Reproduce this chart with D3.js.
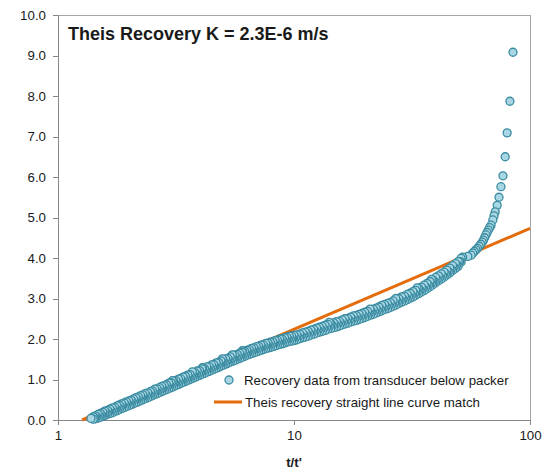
<!DOCTYPE html>
<html>
<head>
<meta charset="utf-8">
<script src="https://cdn.jsdelivr.net/npm/d3@7"></script>
<style>
  html, body { margin: 0; padding: 0; background: #fff; }
  svg { display: block; font-family: "Liberation Sans", Arial, sans-serif; }
</style>
</head>
<body>
<svg id="chart" width="549" height="473"></svg>
<script>
// ---- Data ----
const chartTitle = "Theis Recovery K = 2.3E-6 m/s";
const xAxisTitle = "t/t'";
const xTicks = [1, 10, 100];
const yTicks = [0, 1, 2, 3, 4, 5, 6, 7, 8, 9, 10];
const seriesNames = ["Recovery data from transducer below packer", "Theis recovery straight line curve match"];

// Theis recovery straight line: [t/t', residual drawdown]
const matchLine = [[1.265, 0.0], [100, 4.73]];

// Recovery data: [t/t', residual drawdown (m)]
const recoveryData = [
  [1.38,0.04],
  [1.41,0.08],[1.41,0.02],[1.44,0.10],[1.44,0.03],[1.48,0.14],[1.48,0.05],
  [1.51,0.16],[1.51,0.07],[1.55,0.19],[1.55,0.09],[1.58,0.22],[1.58,0.11],
  [1.62,0.24],[1.62,0.14],[1.66,0.27],[1.66,0.16],[1.70,0.30],[1.70,0.18],
  [1.74,0.31],[1.74,0.21],[1.78,0.35],[1.78,0.23],[1.82,0.37],[1.82,0.26],
  [1.86,0.40],[1.86,0.28],[1.91,0.42],[1.91,0.31],[1.95,0.45],[1.95,0.33],
  [2.00,0.47],[2.00,0.36],[2.04,0.49],[2.04,0.38],[2.09,0.52],[2.09,0.40],
  [2.14,0.55],[2.14,0.43],[2.19,0.57],[2.19,0.45],[2.24,0.60],[2.24,0.48],
  [2.29,0.62],[2.29,0.50],[2.34,0.65],[2.34,0.53],[2.40,0.67],[2.40,0.55],
  [2.46,0.70],[2.46,0.58],[2.51,0.72],[2.51,0.60],[2.57,0.76],[2.57,0.63],
  [2.63,0.77],[2.63,0.65],[2.69,0.80],[2.69,0.68],[2.75,0.83],[2.75,0.70],
  [2.82,0.85],[2.82,0.73],[2.88,0.87],[2.88,0.75],[2.95,0.91],[2.95,0.78],
  [3.02,0.92],[3.02,0.80],[3.05,0.97],[3.09,0.96],[3.09,0.83],[3.16,0.97],[3.16,0.85],
  [3.24,1.01],[3.24,0.88],[3.31,1.02],[3.31,0.90],[3.39,1.06],[3.39,0.93],
  [3.47,1.08],[3.47,0.95],[3.55,1.11],[3.55,0.98],[3.63,1.12],[3.63,1.00],
  [3.71,1.19],[3.72,1.16],[3.72,1.03],[3.80,1.17],[3.80,1.05],[3.89,1.21],[3.89,1.08],
  [3.98,1.22],[3.98,1.10],[4.07,1.26],[4.07,1.13],[4.09,1.29],[4.17,1.27],[4.17,1.15],
  [4.27,1.31],[4.27,1.18],[4.37,1.32],[4.37,1.20],[4.47,1.36],[4.47,1.23],
  [4.57,1.37],[4.57,1.25],[4.68,1.41],[4.68,1.28],[4.79,1.42],[4.79,1.30],
  [4.90,1.46],[4.90,1.33],[4.97,1.51],[5.01,1.47],[5.01,1.35],[5.13,1.51],[5.13,1.38],
  [5.25,1.52],[5.25,1.40],[5.37,1.56],[5.37,1.43],[5.48,1.61],[5.50,1.57],[5.50,1.45],
  [5.62,1.60],[5.62,1.47],[5.75,1.62],[5.75,1.50],[5.89,1.65],[5.89,1.52],
  [6.03,1.67],[6.03,1.55],[6.04,1.71],[6.17,1.70],[6.17,1.57],[6.31,1.72],[6.31,1.60],
  [6.46,1.74],[6.46,1.62],[6.61,1.77],[6.61,1.64],[6.76,1.78],[6.76,1.66],
  [6.92,1.81],[6.92,1.68],[7.08,1.82],[7.08,1.70],[7.24,1.85],[7.24,1.72],
  [7.41,1.86],[7.41,1.74],[7.59,1.89],[7.59,1.76],[7.76,1.90],[7.76,1.78],
  [7.94,1.92],[7.94,1.79],[8.13,1.93],[8.13,1.81],[8.32,1.96],[8.32,1.83],
  [8.51,1.97],[8.51,1.85],[8.71,2.00],[8.71,1.87],[8.91,2.00],[8.91,1.88],
  [9.12,2.03],[9.12,1.90],[9.33,2.04],[9.33,1.92],[9.55,2.07],[9.55,1.94],
  [9.77,2.07],[9.77,1.95],[10.00,2.09],[10.00,1.96],
  // middle of the dense band
  [1.43,0.05],[1.46,0.08],[1.50,0.10],[1.53,0.12],[1.57,0.15],[1.60,0.17],
  [1.64,0.20],[1.68,0.22],[1.72,0.25],[1.76,0.27],[1.80,0.30],[1.84,0.32],
  [1.88,0.35],[1.93,0.37],[1.97,0.40],[2.02,0.42],[2.06,0.45],[2.11,0.47],
  [2.16,0.50],[2.21,0.52],[2.26,0.55],[2.31,0.57],[2.37,0.60],[2.43,0.62],
  [2.48,0.65],[2.54,0.67],[2.60,0.70],[2.66,0.72],[2.72,0.75],[2.78,0.77],
  [2.85,0.80],[2.91,0.82],[2.98,0.85],[3.05,0.87],[3.12,0.90],[3.20,0.92],
  [3.27,0.95],[3.35,0.97],[3.43,1.00],[3.51,1.02],[3.59,1.05],[3.67,1.07],
  [3.76,1.10],[3.85,1.12],[3.94,1.15],[4.02,1.17],[4.12,1.20],[4.22,1.22],
  [4.32,1.25],[4.42,1.27],[4.52,1.30],[4.62,1.32],[4.73,1.35],[4.84,1.37],
  [4.95,1.40],[5.07,1.42],[5.19,1.45],[5.31,1.47],[5.43,1.50],[5.56,1.52],
  [5.69,1.54],[5.82,1.57],[5.96,1.59],[6.10,1.62],[6.24,1.64],[6.38,1.67],
  [6.53,1.69],[6.68,1.71],[6.84,1.73],[7.00,1.75],[7.16,1.77],[7.32,1.79],
  [7.50,1.81],[7.67,1.83],[7.85,1.84],[8.03,1.86],[8.22,1.88],[8.41,1.90],
  [8.61,1.92],[8.81,1.93],[9.01,1.95],[9.22,1.97],[9.44,1.99],[9.66,2.00],[9.88,2.01],
  [10.14,2.03],[10.42,2.05],[10.71,2.08],[11.01,2.10],[11.32,2.12],[11.64,2.14],
  [11.96,2.17],[12.30,2.19],[12.64,2.22],[13.00,2.24],[13.36,2.26],[13.74,2.28],
  [14.12,2.31],[14.52,2.33],[14.93,2.35],[15.35,2.37],[15.78,2.39],[16.22,2.42],
  [16.67,2.44],[17.14,2.46],[17.62,2.49],[18.11,2.51],[18.62,2.53],[19.14,2.55],
  [19.68,2.58],[20.23,2.60],[20.80,2.63],[21.38,2.66],[21.98,2.68],[22.59,2.71],
  [23.23,2.74],[23.88,2.77],[24.55,2.80],[25.24,2.82],[25.94,2.85],[26.67,2.88],
  [27.42,2.92],[28.19,2.95],[28.98,2.98],[29.79,3.01],[30.62,3.05],[31.48,3.08],
  [32.36,3.12],[33.27,3.16],[34.20,3.20],[35.16,3.24],[36.14,3.28],[37.15,3.33],
  [38.20,3.37],[39.27,3.42],[40.37,3.47],[41.50,3.52],[42.66,3.56],[43.85,3.61],
  [45.08,3.66],[46.35,3.72],[47.65,3.77],[48.98,3.83],[50.35,3.91],
  // upper / lower band edges beyond t/t' = 10
  [10.28,2.10],[10.28,1.98],[10.57,2.12],[10.57,2.01],[10.86,2.15],[10.86,2.03],
  [11.17,2.17],[11.17,2.05],[11.48,2.19],[11.48,2.07],[11.80,2.22],[11.80,2.10],
  [12.13,2.24],[12.13,2.12],[12.47,2.27],[12.47,2.15],[12.82,2.29],[12.82,2.17],
  [13.18,2.31],[13.18,2.19],[13.55,2.34],[13.55,2.21],[13.93,2.36],[13.93,2.24],
  [14.10,2.41],[14.32,2.38],[14.32,2.26],[14.72,2.40],[14.72,2.28],[15.14,2.43],[15.14,2.30],
  [15.56,2.44],[15.56,2.32],[16.00,2.47],[16.00,2.35],[16.44,2.50],[16.44,2.37],
  [16.90,2.51],[16.90,2.39],[17.38,2.54],[17.38,2.42],[17.86,2.57],[17.86,2.44],
  [18.37,2.58],[18.37,2.46],[18.88,2.61],[18.88,2.48],[19.41,2.63],[19.41,2.51],
  [19.95,2.66],[19.95,2.53],[20.51,2.68],[20.51,2.56],[21.00,2.74],[21.09,2.71],[21.09,2.59],
  [21.68,2.74],[21.68,2.61],[22.28,2.76],[22.28,2.64],[22.91,2.79],[22.91,2.67],
  [23.55,2.83],[23.55,2.70],[24.21,2.85],[24.21,2.73],[24.89,2.88],[24.89,2.75],
  [25.59,2.90],[25.59,2.78],[26.30,2.94],[26.30,2.81],[27.00,3.00],[27.04,2.96],[27.04,2.84],
  [27.80,3.00],[27.80,2.88],[28.58,3.04],[28.58,2.91],[29.38,3.06],[29.38,2.94],
  [30.20,3.10],[30.20,2.97],[31.05,3.13],[31.05,3.01],[31.92,3.17],[31.92,3.04],
  [32.81,3.20],[32.81,3.08],[33.20,3.26],[33.73,3.25],[33.73,3.12],[34.67,3.28],[34.67,3.16],
  [35.65,3.33],[35.65,3.20],[36.64,3.37],[36.64,3.25],[37.67,3.42],[37.67,3.29],
  [38.20,3.47],[38.73,3.46],[38.73,3.34],[39.81,3.52],[39.81,3.39],[40.93,3.56],[40.93,3.44],
  [42.07,3.61],[42.07,3.48],[43.25,3.65],[43.25,3.53],[44.46,3.70],[44.46,3.58],
  [45.71,3.75],[45.71,3.63],[46.99,3.81],[46.99,3.69],[48.31,3.86],[48.31,3.74],
  [49.66,3.91],[49.66,3.80],[51.05,3.99],[51.05,3.90],[51.80,4.02],
  // early-time points (large t/t')
  [54.5,4.04],[56.3,4.07],[57.2,4.12],[58.1,4.16],[59.0,4.20],[59.9,4.24],
  [60.9,4.29],[61.9,4.34],[62.7,4.39],[63.5,4.44],[64.2,4.50],[65.0,4.57],
  [65.8,4.63],[66.6,4.69],[67.5,4.75],[68.4,4.81],[69.6,4.94],[70.4,5.04],
  [71.2,5.14],[72.6,5.30],[73.9,5.50],[75.3,5.76],[76.8,6.03],[78.5,6.50],
  [80.0,7.09],[82.2,7.87],[84.7,9.08]
];

// ---- Layout ----
const svg = d3.select("#chart");
const plot = { left: 58, right: 530, top: 15, bottom: 420 };

const x = d3.scaleLog().domain([1, 100]).range([plot.left, plot.right]);
const y = d3.scaleLinear().domain([0, 10]).range([plot.bottom, plot.top]);

const axisColor = "#868686";
const textColor = "#1a1a1a";
const markerFill = "#a8d7e3";
const markerStroke = "#3a8ba1";
const lineColor = "#e46c0a";

// plot frame
svg.append("rect")
  .attr("x", plot.left).attr("y", plot.top)
  .attr("width", plot.right - plot.left).attr("height", plot.bottom - plot.top)
  .attr("fill", "none").attr("stroke", "#a6a6a6").attr("stroke-width", 1)
  .attr("shape-rendering", "crispEdges");

// axes
const yAxis = svg.append("g")
  .attr("transform", `translate(${plot.left},0)`)
  .call(d3.axisLeft(y).tickValues(yTicks).tickFormat(d3.format(".1f")).tickSize(5).tickPadding(7));
const xAxis = svg.append("g")
  .attr("transform", `translate(0,${plot.bottom})`)
  .call(d3.axisBottom(x).tickValues(xTicks).tickFormat(d => String(d)).tickSize(5).tickPadding(6));

[yAxis, xAxis].forEach(g => {
  g.select(".domain").attr("stroke", axisColor).attr("shape-rendering", "crispEdges");
  g.selectAll(".tick line").attr("stroke", axisColor).attr("shape-rendering", "crispEdges");
  g.selectAll(".tick text").attr("fill", textColor)
    .style("font-family", "'Liberation Sans', Arial, sans-serif").style("font-size", "13.3px");
});

// straight line match
const lineGen = d3.line().x(d => x(d[0])).y(d => y(d[1]));
svg.append("path")
  .datum(matchLine)
  .attr("d", lineGen)
  .attr("fill", "none")
  .attr("stroke", lineColor)
  .attr("stroke-width", 3);

// scatter (drawn in time order: largest t/t' first)
const ordered = recoveryData.slice().sort((a, b) => b[0] - a[0]);
svg.append("g").selectAll("circle")
  .data(ordered)
  .join("circle")
  .attr("cx", d => x(d[0]))
  .attr("cy", d => y(d[1]))
  .attr("r", 4)
  .attr("fill", markerFill)
  .attr("stroke", markerStroke)
  .attr("stroke-width", 1.3);

// title
svg.append("text")
  .attr("x", 68).attr("y", 40)
  .attr("fill", textColor)
  .style("font-size", "18px").style("font-weight", "bold")
  .text(chartTitle);

// x axis title
svg.append("text")
  .attr("x", (plot.left + plot.right) / 2).attr("y", 467)
  .attr("text-anchor", "middle")
  .attr("fill", textColor)
  .style("font-size", "13.3px").style("font-weight", "bold")
  .text(xAxisTitle);

// legend
const legend = svg.append("g");
legend.append("circle")
  .attr("cx", 229).attr("cy", 380).attr("r", 4)
  .attr("fill", markerFill).attr("stroke", markerStroke).attr("stroke-width", 1.3);
legend.append("text")
  .attr("x", 244).attr("y", 385)
  .attr("fill", textColor).style("font-size", "13.3px")
  .text(seriesNames[0]);
legend.append("line")
  .attr("x1", 214).attr("x2", 242).attr("y1", 402).attr("y2", 402)
  .attr("stroke", lineColor).attr("stroke-width", 3);
legend.append("text")
  .attr("x", 245).attr("y", 407)
  .attr("fill", textColor).style("font-size", "13.3px")
  .text(seriesNames[1]);
</script>
</body>
</html>
